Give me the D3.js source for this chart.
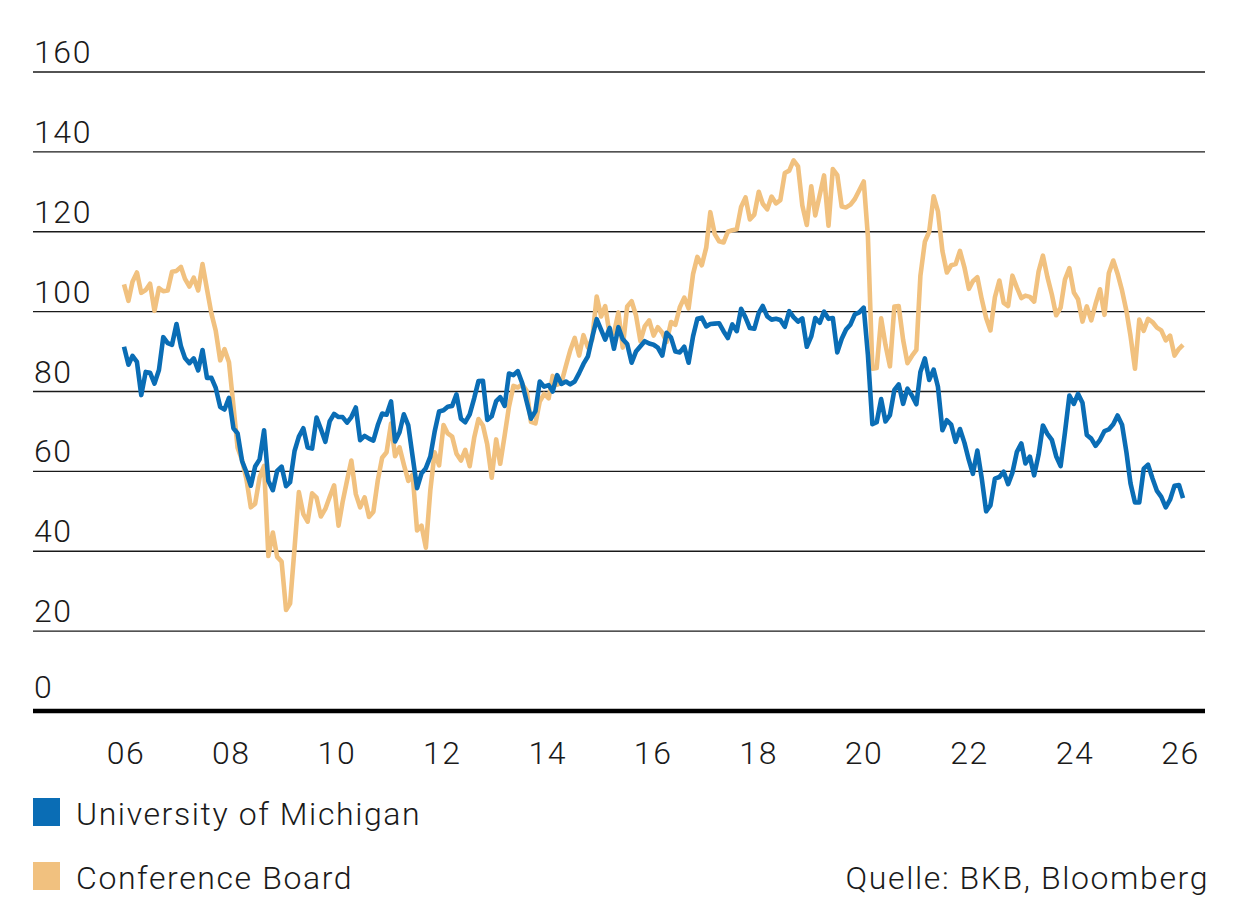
<!DOCTYPE html>
<html>
<head>
<meta charset="utf-8">
<script src="https://cdn.jsdelivr.net/npm/d3@7"></script>
<style>
body { margin: 0; background: #fff; }
text { font-family: Roboto, "Liberation Sans", sans-serif; font-weight: 300; fill: #1a1a1a; letter-spacing: 1.6px; }
</style>
</head>
<body>
<div id="chart"></div>
<script>
// monthly values, Jan 2006 .. Mar 2026
var firstYear = 2006

var michigan = [
    91.2, 86.7, 88.9, 87.4, 79.1, 84.9, 84.7, 82.0, 85.4, 93.6, 92.1, 91.7,
    96.9, 91.3, 88.4, 87.1, 88.3, 85.3, 90.4, 83.4, 83.4, 80.9, 76.1, 75.5,
    78.4, 70.8, 69.5, 62.6, 59.8, 56.4, 61.2, 63.0, 70.3, 57.6, 55.3, 60.1,
    61.2, 56.3, 57.3, 65.1, 68.7, 70.8, 66.0, 65.7, 73.5, 70.6, 67.4, 72.5,
    74.4, 73.6, 73.6, 72.2, 73.6, 76.0, 67.8, 68.9, 68.2, 67.7, 71.6, 74.5,
    74.2, 77.5, 67.5, 69.8, 74.3, 71.5, 63.7, 55.8, 59.5, 60.8, 63.7, 69.9,
    75.0, 75.3, 76.2, 76.4, 79.3, 73.2, 72.3, 74.3, 78.3, 82.6, 82.7, 72.9,
    73.8, 77.6, 78.6, 76.4, 84.5, 84.1, 85.1, 82.1, 77.5, 73.2, 75.1, 82.5,
    81.2, 81.6, 80.0, 84.1, 81.9, 82.5, 81.8, 82.5, 84.6, 86.9, 88.8, 93.6,
    98.1, 95.4, 93.0, 95.9, 90.7, 96.1, 93.1, 91.9, 87.2, 90.0, 91.3, 92.6,
    92.0, 91.7, 91.0, 89.0, 94.7, 93.5, 90.0, 89.8, 91.2, 87.2, 93.8, 98.2,
    98.5, 96.3, 96.9, 97.0, 97.1, 95.1, 93.4, 96.8, 95.1, 100.7, 98.5, 95.9,
    95.7, 99.7, 101.4, 98.8, 98.0, 98.2, 97.9, 96.2, 100.1, 98.6, 97.5, 98.3,
    91.2, 93.8, 98.4, 97.2, 100.0, 98.2, 98.4, 89.8, 93.2, 95.5, 96.8, 99.3,
    99.8, 101.0, 89.1, 71.8, 72.3, 78.1, 72.5, 74.1, 80.4, 81.8, 76.9, 80.7,
    79.0, 76.8, 84.9, 88.3, 82.9, 85.5, 81.2, 70.3, 72.8, 71.7, 67.4, 70.6,
    67.2, 62.8, 59.4, 65.2, 58.4, 50.0, 51.5, 58.2, 58.6, 59.9, 56.8, 59.7,
    64.9, 67.0, 62.0, 63.7, 59.0, 64.2, 71.5, 69.4, 67.9, 63.8, 61.3, 69.7,
    79.0, 76.9, 79.4, 77.2, 69.1, 68.2, 66.4, 67.9, 70.1, 70.5, 71.8, 74.0,
    71.7, 64.7, 57.0, 52.2, 52.2, 60.7, 61.7, 58.2, 55.1, 53.6, 51.0, 52.9,
    56.4, 56.6, 53.3
]

var conference = [
    106.8, 102.7, 107.5, 109.8, 104.7, 105.4, 107.0, 100.2, 105.9, 105.1, 105.3, 110.0,
    110.2, 111.2, 108.2, 106.3, 108.5, 105.3, 111.9, 105.6, 99.5, 95.2, 87.8, 90.6,
    87.3, 76.4, 65.9, 62.8, 58.1, 51.0, 51.9, 58.5, 61.4, 38.8, 44.7, 38.6,
    37.4, 25.3, 26.9, 40.8, 54.8, 49.3, 47.4, 54.5, 53.4, 48.7, 50.6, 53.6,
    56.5, 46.4, 52.3, 57.7, 62.7, 54.3, 51.0, 53.5, 48.6, 49.9, 57.8, 63.4,
    64.8, 72.0, 63.8, 66.0, 61.7, 57.6, 59.2, 45.2, 46.4, 40.9, 55.2, 64.8,
    61.5, 71.6, 69.5, 68.7, 64.4, 62.7, 65.4, 61.3, 68.4, 73.1, 71.5, 66.7,
    58.4, 68.0, 61.9, 69.0, 76.2, 81.4, 81.0, 81.8, 80.2, 72.4, 72.0, 77.5,
    79.4, 78.3, 83.9, 81.7, 82.2, 86.4, 90.3, 93.4, 89.0, 94.1, 91.0, 93.1,
    103.8, 98.8, 101.4, 94.3, 94.6, 99.8, 91.0, 101.3, 102.6, 99.1, 92.6, 96.3,
    97.8, 94.0, 96.1, 94.7, 92.4, 97.4, 96.7, 101.1, 103.5, 100.8, 109.4, 113.7,
    111.6, 116.1, 124.9, 119.4, 117.6, 117.3, 120.0, 120.4, 120.6, 126.2, 128.6, 123.1,
    124.3, 130.0, 127.0, 125.6, 128.8, 127.1, 127.9, 134.7, 135.3, 137.9, 136.4, 126.6,
    121.7, 131.4, 124.1, 129.2, 134.1, 121.5, 135.7, 134.2, 126.3, 126.1, 126.8, 128.2,
    130.4, 132.6, 118.8, 85.7, 85.9, 98.3, 91.7, 86.3, 101.3, 101.4, 92.9, 87.1,
    88.9, 90.4, 109.0, 117.5, 120.0, 128.9, 125.1, 115.2, 109.8, 111.6, 111.9, 115.2,
    111.1, 105.7, 107.6, 108.6, 103.2, 98.4, 95.3, 103.6, 107.8, 102.2, 101.4, 109.0,
    106.0, 103.4, 104.0, 103.7, 102.5, 110.1, 114.0, 108.7, 104.3, 99.1, 101.0, 108.0,
    110.9, 104.8, 103.1, 97.5, 101.3, 97.8, 101.9, 105.6, 99.2, 109.6, 112.8, 109.5,
    105.3, 100.1, 93.9, 85.7, 98.0, 95.2, 98.2, 97.4, 96.0, 95.3, 92.8, 94.0,
    89.0, 90.7, 91.7
]

var yTicks = [0, 20, 40, 60, 80, 100, 120, 140, 160]
var xTickYears = [2006, 2008, 2010, 2012, 2014, 2016, 2018, 2020, 2022, 2024, 2026]
var seriesNames = ['University of Michigan', 'Conference Board']
var seriesColors = ['#0a6db5', '#f1c17f']
var sourceText = 'Quelle: BKB, Bloomberg'

function drawChart(){

    var width = 1246, height = 923
    var left = 33, right = 1205

    var svg = d3.select('#chart').append('svg')
        .attr('width', width)
        .attr('height', height)

    svg.append('rect')
        .attr('width', width)
        .attr('height', height)
        .style('fill', '#fff')

    function monthDate(i){ return new Date(firstYear, i, 1) }

    var x = d3.scaleTime()
        .domain([monthDate(0), monthDate(michigan.length - 1)])
        .range([124, 1183])
    var y = d3.scaleLinear()
        .domain([0, 160])
        .range([711, 72])

    // horizontal grid
    svg.selectAll('.grid')
        .data(yTicks.filter(function(d){ return d > 0 }))
        .enter().append('line')
        .attr('class', 'grid')
        .attr('x1', left)
        .attr('x2', right)
        .attr('y1', function(d){ return y(d) })
        .attr('y2', function(d){ return y(d) })
        .style('stroke', '#1a1a1a')
        .style('stroke-width', 1.3)

    svg.selectAll('.ylab')
        .data(yTicks)
        .enter().append('text')
        .attr('class', 'ylab')
        .attr('x', 34)
        .attr('y', function(d){ return y(d) - (d === 0 ? 13 : 9) })
        .style('font-size', '32px')
        .text(function(d){ return d })

    // series, conference board underneath
    var line = d3.line()
        .x(function(d, i){ return x(monthDate(i)) })
        .y(function(d){ return y(d) })

    var seriesData = [michigan, conference]
    ;[1, 0].forEach(function(k){
        svg.append('path')
            .datum(seriesData[k])
            .attr('d', line)
            .style('fill', 'none')
            .style('stroke', seriesColors[k])
            .style('stroke-width', 4.6)
            .style('stroke-linejoin', 'round')
    })

    // base line
    svg.append('line')
        .attr('x1', left)
        .attr('x2', right)
        .attr('y1', y(0))
        .attr('y2', y(0))
        .style('stroke', '#000')
        .style('stroke-width', 4.5)

    svg.selectAll('.xlab')
        .data(xTickYears)
        .enter().append('text')
        .attr('class', 'xlab')
        .attr('x', function(d, i){ return x(new Date(d, 0, 1)) + 2 + i * 0.4 })
        .attr('y', 764)
        .attr('text-anchor', 'middle')
        .style('font-size', '32px')
        .text(function(d){ return d3.format('02d')(d % 100) })

    // legend
    var legendY = [798, 862]
    seriesNames.forEach(function(name, i){
        svg.append('rect')
            .attr('x', 33)
            .attr('y', legendY[i])
            .attr('width', 27)
            .attr('height', 28)
            .style('fill', seriesColors[i])
        svg.append('text')
            .attr('x', 76)
            .attr('y', legendY[i] + 27)
            .style('font-size', '32px')
            .text(name)
    })

    svg.append('text')
        .attr('x', 1209)
        .attr('y', legendY[1] + 27)
        .attr('text-anchor', 'end')
        .style('font-size', '32px')
        .text(sourceText)
}

drawChart()
</script>
</body>
</html>
